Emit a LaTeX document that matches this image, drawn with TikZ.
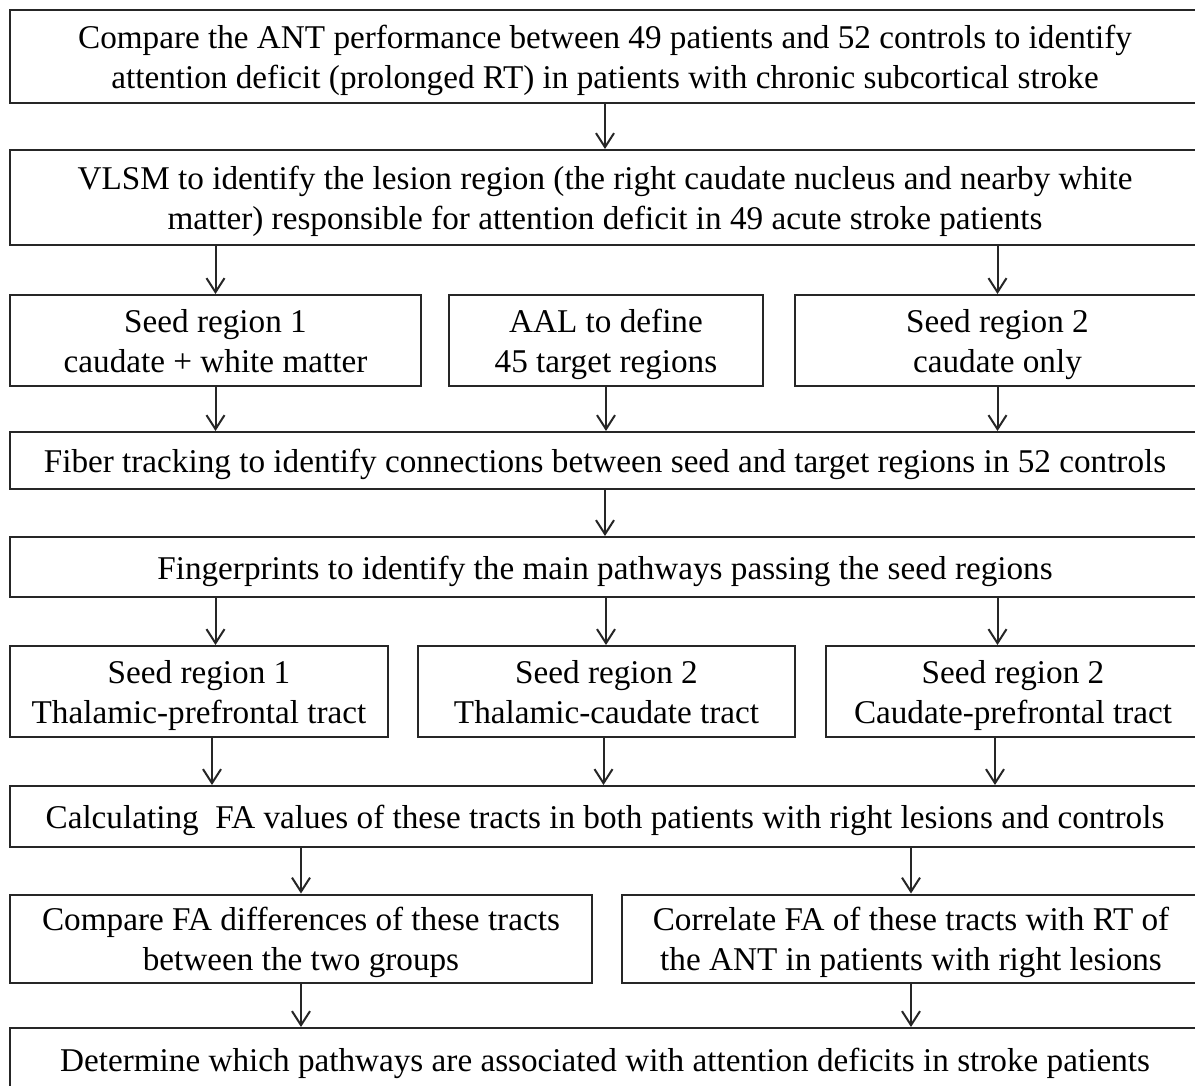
\documentclass[tikz,border=0pt]{standalone}
\usepackage{fontspec}
\setmainfont{Liberation Serif}
\usetikzlibrary{arrows.meta}
\newcommand{\tops}{\rule[-6pt]{0pt}{24pt}}
\begin{document}
\begin{tikzpicture}[x=0.5pt,y=-0.5pt,
  box/.style={draw=black!85, line width=1pt, fill=white, inner sep=0pt, align=center,
    font=\fontsize{16.6}{20}\selectfont, text=black},
  arr/.style={draw=black!85, line width=1pt, -{Straight Barb[length=7pt,width=9pt,line width=1pt]}}]
\useasboundingbox (0,0) rectangle (1195,1086);
\clip (0,0) rectangle (1195,1086);
\fill[white] (0,0) rectangle (1195,1086);
\node[box, minimum width=595pt, minimum height=46.5pt] (top) at (605,56.5)
  {\tops Compare the ANT performance between 49 patients and 52 controls to identify\\attention deficit (prolonged RT) in patients with chronic subcortical stroke\strut};
\node[box, minimum width=595pt, minimum height=47.5pt] (vlsm) at (605,197.5)
  {\tops VLSM to identify the lesion region (the right caudate nucleus and nearby white\\matter) responsible for attention deficit in 49 acute stroke patients\strut};
\node[box, minimum width=205.5pt, minimum height=45.5pt] (seed1) at (215.5,340.5)
  {\tops Seed region 1\\caudate + white matter\strut};
\node[box, minimum width=157pt, minimum height=45.5pt] (aal) at (606,340.5)
  {\tops AAL to define\\45 target regions\strut};
\node[box, minimum width=202.5pt, minimum height=45.5pt] (seed2) at (997.5,340.5)
  {\tops Seed region 2\\caudate only\strut};
\node[box, minimum width=595pt, minimum height=28.5pt] (fiber) at (605,460.5)
  {\tops Fiber tracking to identify connections between seed and target regions in 52 controls};
\node[box, minimum width=595pt, minimum height=30pt] (finger) at (605,567)
  {\tops Fingerprints to identify the main pathways passing the seed regions};
\node[box, minimum width=189pt, minimum height=45.5pt] (tract1) at (199,691.5)
  {\tops Seed region 1\\Thalamic-prefrontal tract\strut};
\node[box, minimum width=188.5pt, minimum height=45.5pt] (tract2) at (606.5,691.5)
  {\tops Seed region 2\\Thalamic-caudate tract\strut};
\node[box, minimum width=187pt, minimum height=45.5pt] (tract3) at (1013,691.5)
  {\tops Seed region 2\\Caudate-prefrontal tract\strut};
\node[box, minimum width=595pt, minimum height=30.5pt] (calc) at (605,816.5)
  {\tops Calculating\ \ FA values of these tracts in both patients with right lesions and controls};
\node[box, minimum width=291pt, minimum height=43.5pt] (cmp) at (301,938.5)
  {\tops Compare FA differences of these tracts\\between the two groups\strut};
\node[box, minimum width=289pt, minimum height=43.5pt] (corr) at (911,938.5)
  {\tops Correlate FA of these tracts with RT of\\the ANT in patients with right lesions\strut};
\node[box, minimum width=595pt, minimum height=31pt] (det) at (605,1059)
  {\tops Determine which pathways are associated with attention deficits in stroke patients};
% arrows
\draw[arr] (top.south) -- (vlsm.north);
\draw[arr] (vlsm.south -| seed1.north) -- (seed1.north);
\draw[arr] (vlsm.south -| seed2.north) -- (seed2.north);
\draw[arr] (seed1.south) -- (seed1.south |- fiber.north);
\draw[arr] (aal.south) -- (aal.south |- fiber.north);
\draw[arr] (seed2.south) -- (seed2.south |- fiber.north);
\draw[arr] (fiber.south) -- (finger.north);
\draw[arr] (finger.south -| seed1.south) -- (tract1.north -| seed1.south);
\draw[arr] (finger.south -| aal.south) -- (tract2.north -| aal.south);
\draw[arr] (finger.south -| seed2.south) -- (tract3.north -| seed2.south);
\draw[arr] ([xshift=6.5pt]tract1.south) -- ([xshift=6.5pt]tract1.south |- calc.north);
\draw[arr] ([xshift=-1.5pt]tract2.south) -- ([xshift=-1.5pt]tract2.south |- calc.north);
\draw[arr] ([xshift=-9pt]tract3.south) -- ([xshift=-9pt]tract3.south |- calc.north);
\draw[arr] (calc.south -| cmp.north) -- (cmp.north);
\draw[arr] (calc.south -| corr.north) -- (corr.north);
\draw[arr] (cmp.south) -- (cmp.south |- det.north);
\draw[arr] (corr.south) -- (corr.south |- det.north);
\end{tikzpicture}
\end{document}
